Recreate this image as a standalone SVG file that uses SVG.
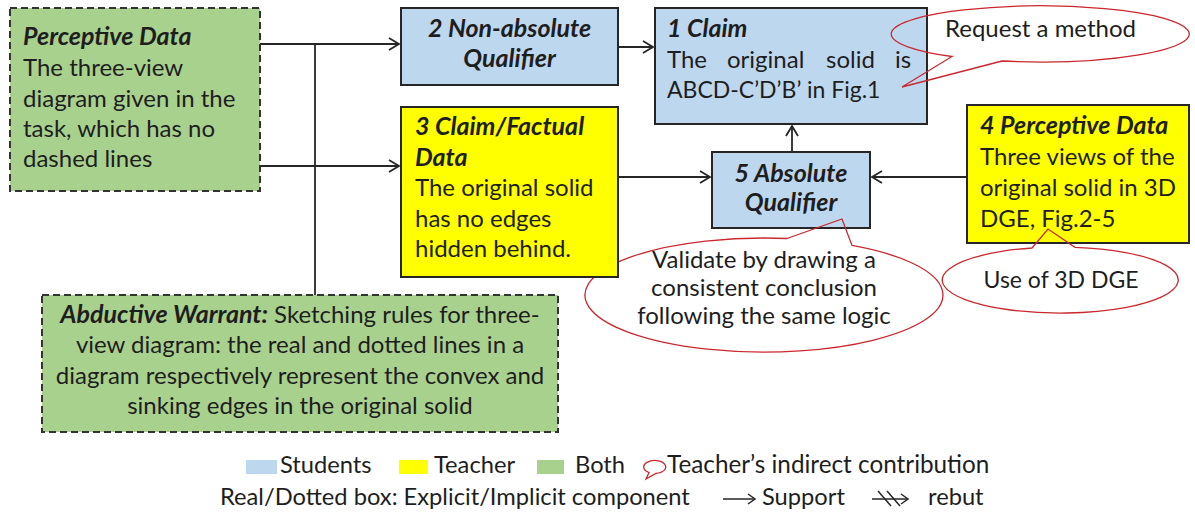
<svg xmlns="http://www.w3.org/2000/svg" width="1195" height="515" viewBox="0 0 1195 515">
<style>
text{font-family:Lato,"Open Sans","Liberation Sans",sans-serif;font-size:24px;fill:#1e1e1e}
.t{font-weight:bold;font-style:italic;font-size:25px}
.c{text-anchor:middle}
.lg{font-size:23.7px}
.box{stroke:#262626;stroke-width:2}
.dash{stroke:#333;stroke-width:2;stroke-dasharray:7 4}
.blue{fill:#BDD7EE}.yel{fill:#FFFF00}.grn{fill:#A9D18E}
.call{fill:none;stroke:#C9282E;stroke-width:1.3}
.con{fill:none;stroke:#262626;stroke-width:1.8}
.lk{fill:none;stroke:#262626;stroke-width:1.5}
</style>
<defs>
<marker id="arr" markerUnits="userSpaceOnUse" markerWidth="14" markerHeight="16" refX="11" refY="7" orient="auto">
<path d="M1,1 L11,7 L1,13" fill="none" stroke="#262626" stroke-width="1.8"/>
</marker>
</defs>
<rect width="1195" height="515" fill="#fff"/>

<g id="connectors">
<line class="con" x1="260" y1="44" x2="399" y2="44" marker-end="url(#arr)"/>
<line class="con" x1="260" y1="166" x2="399" y2="166" marker-end="url(#arr)"/>
<line class="con" x1="315" y1="44" x2="315" y2="295"/>
<line class="con" x1="618" y1="47" x2="653" y2="47" marker-end="url(#arr)"/>
<line class="con" x1="618" y1="177" x2="710" y2="177" marker-end="url(#arr)"/>
<line class="con" x1="792" y1="152" x2="792" y2="126" marker-end="url(#arr)"/>
<line class="con" x1="967" y1="177" x2="872" y2="177" marker-end="url(#arr)"/>
</g>

<g id="n-perceptive">
<rect class="dash grn" x="10" y="8" width="250" height="183"/>
<text class="t" x="23" y="45">Perceptive Data</text>
<text x="23" y="76">The three-view</text>
<text x="23" y="107">diagram given in the</text>
<text x="23" y="137">task, which has no</text>
<text x="23" y="167">dashed lines</text>
</g>

<g id="n-abductive">
<rect class="dash grn" x="42" y="295" width="516" height="137"/>
<text class="c" x="300" y="323"><tspan class="t">Abductive Warrant:</tspan> Sketching rules for three-</text>
<text class="c" x="300" y="353">view diagram: the real and dotted lines in a</text>
<text class="c" x="300" y="384">diagram respectively represent the convex and</text>
<text class="c" x="300" y="414">sinking edges in the original solid</text>
</g>

<g id="n2">
<rect class="box blue" x="401" y="8" width="217" height="77"/>
<text class="t c" x="509.5" y="37">2 Non-absolute</text>
<text class="t c" x="509.5" y="67">Qualifier</text>
</g>

<g id="n1">
<rect class="box blue" x="655" y="8" width="272" height="116"/>
<text class="t" x="667" y="37">1 Claim</text>
<text y="68"><tspan x="667">The</tspan><tspan x="727">original</tspan><tspan x="826">solid</tspan><tspan x="895">is</tspan></text>
<text x="667" y="98" style="font-size:23px">ABCD-C’D’B’ in Fig.1</text>
</g>

<g id="n5">
<rect class="box blue" x="712" y="152" width="158" height="76"/>
<text class="t c" x="791" y="182">5 Absolute</text>
<text class="t c" x="791" y="211">Qualifier</text>
</g>

<g id="n4">
<rect class="box yel" x="967" y="105" width="222" height="138"/>
<text class="t" x="980" y="134">4 Perceptive Data</text>
<text x="980" y="165">Three views of the</text>
<text x="980" y="196">original solid in 3D</text>
<text x="980" y="227">DGE, Fig.2-5</text>
</g>

<g id="c-request">
<path class="call" d="M1002,61 L902,87 L952,56.5 A149,28 0 1,1 1002,61 Z"/>
<text x="945" y="37">Request a method</text>
</g>

<g id="c-validate">
<path class="call" d="M787,238.5 L842,219 L852,245.4 A179,57 0 1,1 787,238.5 Z"/>
<text class="c" x="764" y="268">Validate by drawing a</text>
<text class="c" x="764" y="296">consistent conclusion</text>
<text class="c" x="764" y="324">following the same logic</text>
</g>

<g id="c-use">
<path class="call" d="M1032,248 L1048,229 L1075,247.3 A118,33 0 1,1 1032,248 Z"/>
<text class="c" x="1061" y="288" style="font-size:23px">Use of 3D DGE</text>
</g>

<g id="n3">
<rect class="box yel" x="401" y="107" width="217" height="170"/>
<text class="t" x="415" y="135">3 Claim/Factual</text>
<text class="t" x="415" y="166">Data</text>
<text x="415" y="196">The original solid</text>
<text x="415" y="227">has no edges</text>
<text x="415" y="257">hidden behind.</text>
</g>

<g id="legend">
<rect class="blue" x="246" y="460" width="31" height="14"/>
<text class="lg" x="280" y="473">Students</text>
<rect class="yel" x="399" y="460" width="29" height="14"/>
<text class="lg" x="434" y="473">Teacher</text>
<rect class="grn" x="537" y="460" width="27" height="14"/>
<text class="lg" x="575" y="473">Both</text>
<path class="call" d="M649,472.5 L646,479 L656,473.4 A11,6.5 0 1,0 649,472.5 Z" stroke-width="1.7"/>
<text class="lg" x="667" y="473" style="font-size:24.3px">Teacher’s indirect contribution</text>
<text class="lg" x="220" y="505">Real/Dotted box: Explicit/Implicit component</text>
<line class="lk" x1="723" y1="499" x2="755" y2="499"/>
<path class="lk" d="M748,494 L755,499 L748,504"/>
<text class="lg" x="762" y="505">Support</text>
<line class="lk" x1="872" y1="499" x2="908" y2="499"/>
<path class="lk" d="M901,494 L908,499 L901,504"/>
<line class="lk" x1="878" y1="491" x2="891" y2="506"/>
<line class="lk" x1="887" y1="491" x2="900" y2="506"/>
<text class="lg" x="928" y="505">rebut</text>
</g>
</svg>
